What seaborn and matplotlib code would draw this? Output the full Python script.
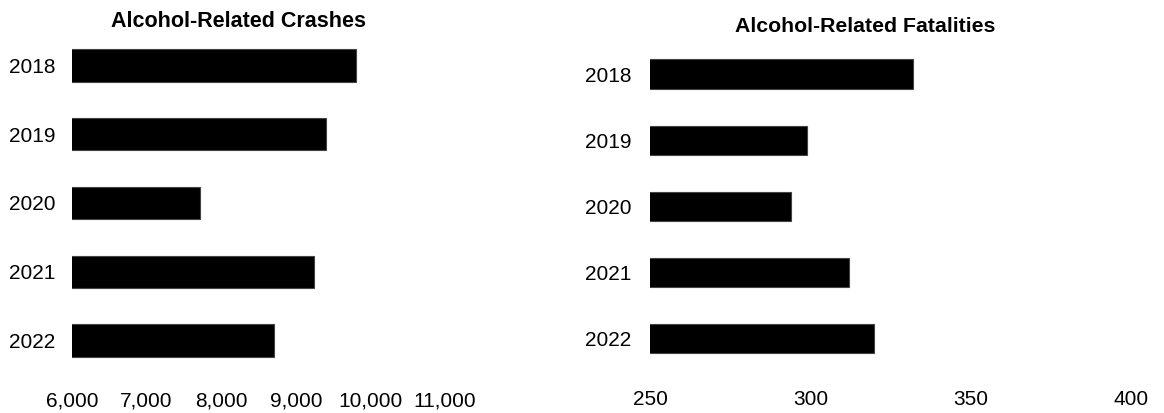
import matplotlib
matplotlib.use('Agg')
import matplotlib.pyplot as plt
import seaborn as sns
import pandas as pd
from matplotlib.ticker import FuncFormatter, FixedLocator

years = ['2018', '2019', '2020', '2021', '2022']
crashes = [9808, 9405, 7714, 9244, 8707]
fatalities = [332, 299, 294, 312, 320]
crash_ticks = [6000, 7000, 8000, 9000, 10000, 11000]
fatal_ticks = [250, 300, 350, 400]
title_crashes = 'Alcohol-Related Crashes'
title_fatalities = 'Alcohol-Related Fatalities'

df_c = pd.DataFrame({'Year': years, 'Crashes': crashes})
df_f = pd.DataFrame({'Year': years, 'Fatalities': fatalities})

sns.set_theme(style='white')
plt.rcParams['font.family'] = ['Liberation Sans', 'DejaVu Sans']

W, H = 1164, 413
fig = plt.figure(figsize=(W / 100, H / 100), dpi=100)
ax1 = fig.add_axes([72 / W, 1 - 375 / H, 373 / W, 344 / H])
ax2 = fig.add_axes([650 / W, 1 - 371.5 / H, 481 / W, 330.2 / H])

sns.barplot(data=df_c, y='Year', x='Crashes', orient='h', color='black',
            width=0.47, edgecolor='#444444', linewidth=0.8, ax=ax1, saturation=1)
sns.barplot(data=df_f, y='Year', x='Fatalities', orient='h', color='black',
            width=0.45, edgecolor='#444444', linewidth=0.8, ax=ax2, saturation=1)

ax1.set_xlim(crash_ticks[0], crash_ticks[-1])
ax1.xaxis.set_major_locator(FixedLocator(crash_ticks))
ax1.xaxis.set_major_formatter(FuncFormatter(lambda v, p: f'{int(v):,}'))
ax2.set_xlim(fatal_ticks[0], fatal_ticks[-1])
ax2.xaxis.set_major_locator(FixedLocator(fatal_ticks))

for ax, xpad, ypad in [(ax1, 12, 12), (ax2, 13.5, 13.5)]:
    ax.set_ylim(4.5, -0.5)
    ax.set_xlabel('')
    ax.set_ylabel('')
    for s in ax.spines.values():
        s.set_visible(False)
    ax.tick_params(axis='x', length=0, pad=xpad, labelsize=15, colors='black')
    ax.tick_params(axis='y', length=0, pad=ypad, labelsize=15, colors='black')
    ax.grid(False)

fig.text(238.7 / W, 1 - 26.7 / H, title_crashes, ha='center', va='baseline',
         fontsize=15.5, fontweight='bold', color='black')
fig.text(865.5 / W, 1 - 32.3 / H, title_fatalities, ha='center', va='baseline',
         fontsize=15.3, fontweight='bold', color='black')

fig.savefig('out.png', dpi=100, facecolor='white')
